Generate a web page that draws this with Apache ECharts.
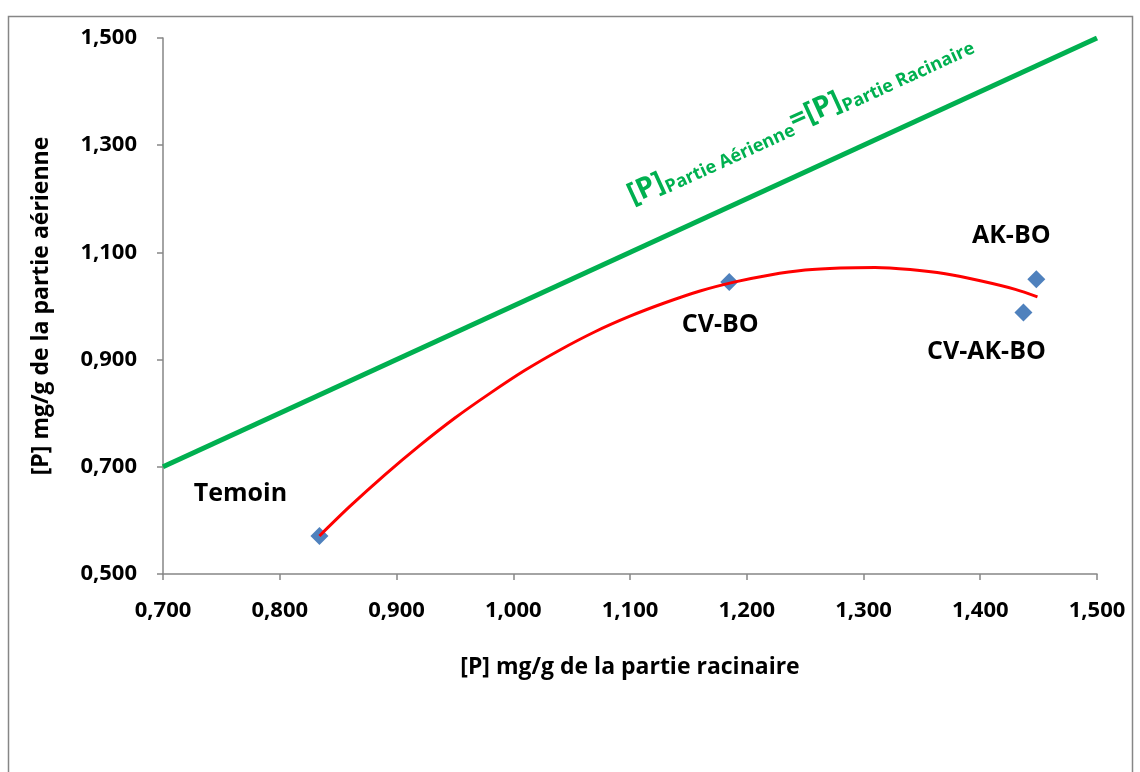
<!DOCTYPE html>
<html>
<head>
<meta charset="utf-8">
<script src="https://cdn.jsdelivr.net/npm/echarts@6/dist/echarts.min.js"></script>
<style>
  html, body { margin: 0; padding: 0; background: #fff; }
  #chart { width: 1140px; height: 772px; }
</style>
</head>
<body>
<div id="chart"></div>
<script>
// points : [P] racine (x), [P] partie aerienne (y)
var names = ['Temoin', 'CV-BO', 'AK-BO', 'CV-AK-BO'];
var racine = [0.834, 1.185, 1.448, 1.437];
var aerienne = [0.571, 1.045, 1.050, 0.988];

// courbe de tendance
var trendX = [0.834, 0.860, 0.890, 0.920, 0.950, 0.980, 1.010, 1.040, 1.070, 1.100, 1.130,
              1.160, 1.190, 1.220, 1.250, 1.280, 1.310, 1.340, 1.370, 1.400, 1.430, 1.449];
var trendY = [0.571, 0.626, 0.685, 0.740, 0.791, 0.837, 0.880, 0.918, 0.952, 0.981, 1.006,
              1.028, 1.045, 1.058, 1.067, 1.071, 1.072, 1.068, 1.060, 1.047, 1.031, 1.017];

// droite 1:1
var egalX = [0.7, 1.5];
var egalY = [0.7, 1.5];

var labelOffsets = [[-79, -42], [-9, 43], [-25, -43], [-37, 39]];

var myChart = echarts.init(document.getElementById('chart'));

var pts = [];
for (var i = 0; i < names.length; i++) {
  pts.push({
    name: names[i],
    value: [racine[i], aerienne[i]],
    label: { offset: labelOffsets[i] }
  });
}
var trend = [];
for (var i = 0; i < trendX.length; i++) trend.push([trendX[i], trendY[i]]);
var egal = [];
for (var i = 0; i < egalX.length; i++) egal.push([egalX[i], egalY[i]]);

function fmt(v) { return v.toFixed(3).replace('.', ','); }

var font = 'Open Sans';

option = {
  animation: false,
  backgroundColor: '#fff',
  graphic: [{
    type: 'rect',
    shape: { x: 8.5, y: 16.5, width: 1124, height: 790 },
    style: { fill: 'none', stroke: '#868686', lineWidth: 1.5 },
    silent: true
  }],
  grid: { left: 163, right: 43, top: 38, bottom: 198 },
  xAxis: {
    type: 'value',
    min: 0.7, max: 1.5, interval: 0.1,
    name: '[P] mg/g de la partie racinaire',
    nameLocation: 'middle',
    nameGap: 82,
    nameTextStyle: { fontFamily: font, fontWeight: 'bold', fontSize: 23, color: '#000' },
    axisLine: { lineStyle: { color: '#868686', width: 1.5 } },
    axisTick: { length: 6, lineStyle: { color: '#868686', width: 1.5 } },
    axisLabel: { formatter: fmt, margin: 26, fontFamily: font, fontWeight: 'bold', fontSize: 22, color: '#000' },
    splitLine: { show: false }
  },
  yAxis: {
    type: 'value',
    min: 0.5, max: 1.5, interval: 0.2,
    name: '[P] mg/g de la partie aérienne',
    nameLocation: 'middle',
    nameGap: 110,
    nameTextStyle: { fontFamily: font, fontWeight: 'bold', fontSize: 23, color: '#000' },
    axisLine: { lineStyle: { color: '#868686', width: 1.5 } },
    axisTick: { length: 6, lineStyle: { color: '#868686', width: 1.5 } },
    axisLabel: { formatter: fmt, margin: 26, fontFamily: font, fontWeight: 'bold', fontSize: 22, color: '#000' },
    splitLine: { show: false }
  },
  series: [
    {
      name: 'egal',
      type: 'line',
      data: egal,
      symbol: 'none',
      lineStyle: { color: '#00B050', width: 5 },
      markPoint: {
        symbol: 'circle',
        symbolSize: 1,
        itemStyle: { color: 'rgba(0,0,0,0)' },
        data: [{ coord: [1.2456, 1.2456] }],
        label: {
          show: true,
          position: 'inside',
          rotate: 24.6,
          offset: [23, -51],
          formatter: '{b|[P]}{s|Partie Aérienne}{b|=[P]}{s|Partie Racinaire}',
          rich: {
            b: { fontFamily: font, fontWeight: 'bold', fontSize: 29, color: '#00B050' },
            s: { fontFamily: font, fontWeight: 'bold', fontSize: 18, color: '#00B050', padding: [16, 0, 0, 0] }
          }
        }
      }
    },
    {
      name: 'tendance',
      type: 'line',
      data: trend,
      smooth: 0.3,
      symbol: 'none',
      lineStyle: { color: '#FF0000', width: 3 },
      z: 3
    },
    {
      name: 'points',
      type: 'scatter',
      data: pts,
      symbol: 'diamond',
      symbolSize: 18,
      itemStyle: { color: '#4F81BD', opacity: 1 },
      z: 2,
      label: {
        show: true,
        position: 'inside',
        formatter: '{b}',
        fontFamily: font,
        fontWeight: 'bold',
        fontSize: 25,
        color: '#000',
        textBorderWidth: 0
      }
    }
  ]
};

myChart.setOption(option);
</script>
</body>
</html>
